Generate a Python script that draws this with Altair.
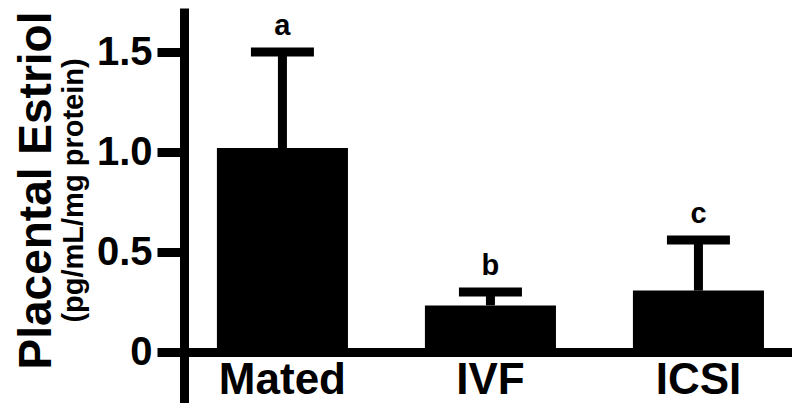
import altair as alt
import pandas as pd

groups = ["Mated", "IVF", "ICSI"]
means = [1.02, 0.233, 0.307]
errors = [0.48, 0.067, 0.253]
letters = ["a", "b", "c"]

df = pd.DataFrame({
    "group": groups,
    "mean": means,
    "upper": [m + e for m, e in zip(means, errors)],
    "letter": letters,
})

FONT = "Liberation Sans"

yscale = alt.Scale(domain=[-0.255, 1.72], zero=False, nice=False)
xscale = alt.Scale(paddingInner=0.37, paddingOuter=0.1465, align=0.54)

x_axis = alt.Axis(
    title=None, orient="bottom", offset=-51, domainWidth=9, domainColor="black",
    ticks=False, tickSize=0, labelAngle=0, labelFont=FONT, labelFontSize=44,
    labelFontWeight="bold", labelColor="black", labelBaseline="alphabetic",
    labelPadding=41, grid=False,
)

main_axis = alt.Axis(
    title="Placental Estriol", orient="left", values=[0, 0.5, 1, 1.5],
    labelExpr="datum.value == 0 ? '0' : format(datum.value, '.1f')",
    domainWidth=9, domainColor="black", tickWidth=9, tickSize=27, tickColor="black",
    labelFont=FONT, labelFontSize=40, labelFontWeight="bold", labelColor="black",
    labelPadding=5, grid=False,
    titleFont=FONT, titleFontSize=46, titleFontWeight="bold", titleColor="black",
    titleAngle=270, titleBaseline="alphabetic", titleAlign="center",
    titleX=-134, titleY=182,
)

sub_axis = alt.Axis(
    title="(pg/mL/mg protein)", orient="left", domain=False, ticks=False,
    labels=False, grid=False,
    titleFont=FONT, titleFontSize=29, titleFontWeight="bold", titleColor="black",
    titleAngle=270, titleBaseline="alphabetic", titleAlign="center",
    titleX=-102, titleY=182,
)

base = alt.Chart(df)
xenc = alt.X("group:N", sort=groups, scale=xscale, axis=x_axis)

bars = base.mark_bar(color="black").encode(
    x=xenc,
    y=alt.Y("mean:Q", scale=yscale, axis=main_axis),
)

stems = base.mark_rule(color="black", strokeWidth=9).encode(
    x=alt.X("group:N", sort=groups),
    y=alt.Y("mean:Q", scale=yscale, axis=sub_axis),
    y2="upper:Q",
)

caps = base.mark_tick(color="black", thickness=9, size=63, opacity=1).encode(
    x=alt.X("group:N", sort=groups),
    y=alt.Y("upper:Q", scale=yscale, axis=None),
)

labels = base.mark_text(
    font=FONT, fontSize=29, fontWeight="bold", color="black",
    baseline="alphabetic", align="center", dy=-17,
).encode(
    x=alt.X("group:N", sort=groups),
    y=alt.Y("upper:Q", scale=yscale, axis=None),
    text="letter:N",
)

chart = (
    alt.layer(bars, stems, caps, labels)
    .resolve_axis(y="independent")
    .properties(
        width=608, height=395,
        autosize=alt.AutoSizeParams(type="none"),
        padding={"left": 176, "top": 0, "right": 0, "bottom": 0},
        background="white",
    )
    .configure_view(strokeWidth=0)
)

chart.save("out.html", embed_options={"renderer": "svg", "actions": False})
